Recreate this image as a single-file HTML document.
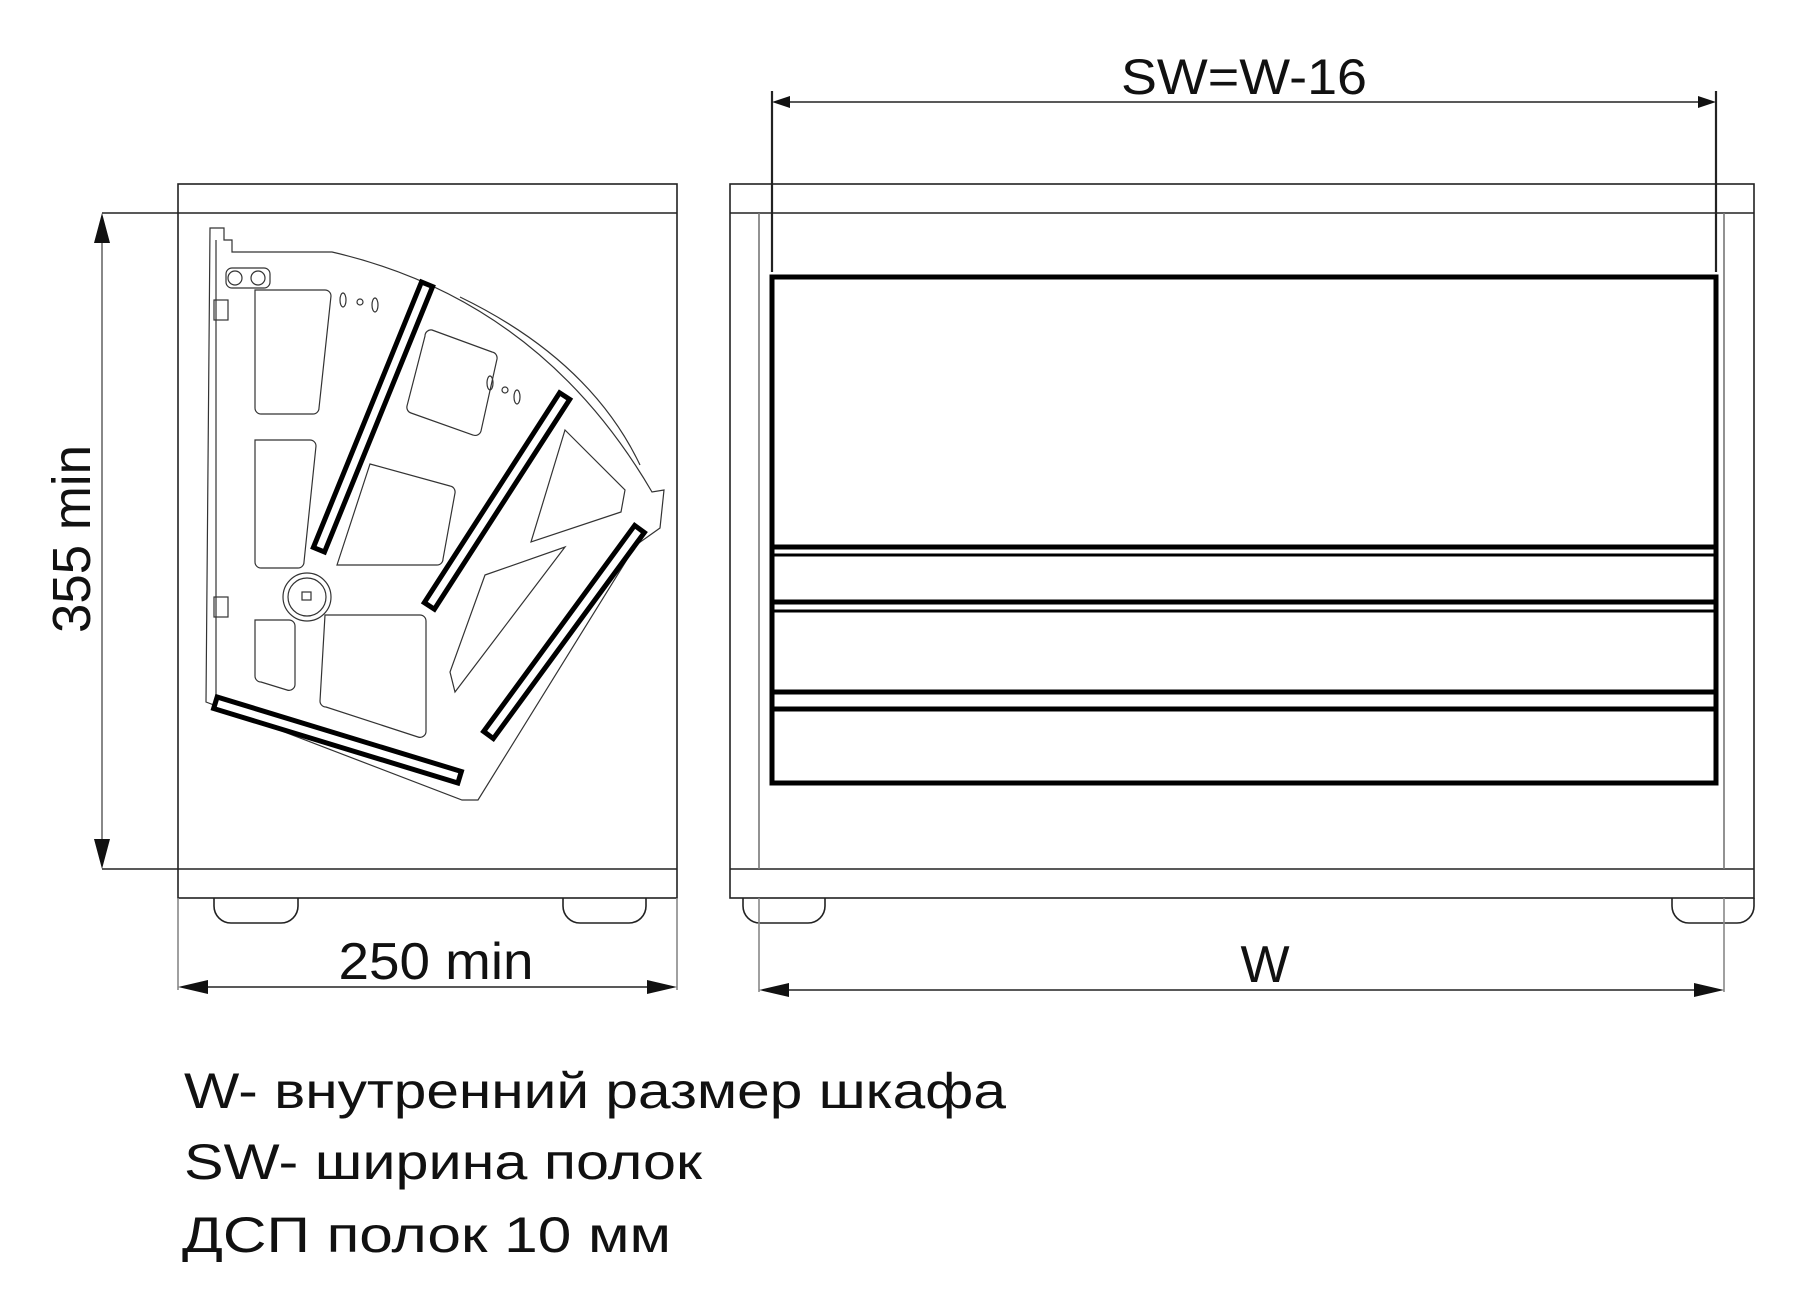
<!DOCTYPE html>
<html><head><meta charset="utf-8"><style>
html,body{margin:0;padding:0;background:#fff}
svg{display:block}
text{font-family:"Liberation Sans","DejaVu Sans",sans-serif;fill:#111}
</style></head><body>
<svg width="1809" height="1308" viewBox="0 0 1809 1308" xmlns="http://www.w3.org/2000/svg">
<rect width="1809" height="1308" fill="#fff"/>
<g fill="none" stroke="#222" stroke-width="1.6">
<rect x="178" y="184" width="499" height="714"/>
<line x1="178" y1="213" x2="677" y2="213"/>
<line x1="178" y1="869" x2="677" y2="869"/>
<path d="M214 898 v8 a17 17 0 0 0 17 17 h50 a17 17 0 0 0 17 -17 v-8"/>
<path d="M563 898 v8 a17 17 0 0 0 17 17 h49 a17 17 0 0 0 17 -17 v-8"/>
<rect x="730" y="184" width="1024" height="714"/>
<line x1="730" y1="213" x2="1754" y2="213"/>
<line x1="730" y1="869" x2="1754" y2="869"/>
<line x1="759" y1="213" x2="759" y2="869" stroke="#777"/>
<line x1="1724" y1="213" x2="1724" y2="869" stroke="#777"/>
<path d="M743 898 v8 a17 17 0 0 0 17 17 h48 a17 17 0 0 0 17 -17 v-8"/>
<path d="M1672 898 v8 a17 17 0 0 0 17 17 h48 a17 17 0 0 0 17 -17 v-8"/>
</g>
<g stroke="#222" stroke-width="1.6" fill="none">
<line x1="102" y1="213" x2="178" y2="213"/>
<line x1="102" y1="869" x2="178" y2="869"/>
<line x1="102" y1="230" x2="102" y2="852" stroke="#888" stroke-width="2"/>
<line x1="178" y1="898" x2="178" y2="990" stroke="#888"/>
<line x1="677" y1="898" x2="677" y2="990" stroke="#888"/>
<line x1="190" y1="987" x2="665" y2="987"/>
<line x1="759" y1="898" x2="759" y2="992" stroke="#888"/>
<line x1="1724" y1="898" x2="1724" y2="992" stroke="#888"/>
<line x1="775" y1="990" x2="1708" y2="990"/>
<line x1="772" y1="91" x2="772" y2="272" stroke-width="2.2"/>
<line x1="1716" y1="91" x2="1716" y2="272" stroke-width="2.2"/>
<line x1="790" y1="102" x2="1700" y2="102"/>
</g>
<g fill="#111">
<polygon points="102,213 94,243 110,243"/>
<polygon points="102,869 94,839 110,839"/>
<polygon points="178,987 208,980 208,994"/>
<polygon points="677,987 647,980 647,994"/>
<polygon points="759,990 789,983 789,997"/>
<polygon points="1724,990 1694,983 1694,997"/>
<polygon points="772,102 790,96 790,108"/>
<polygon points="1716,102 1698,96 1698,108"/>
</g>
<g fill="none" stroke="#000" stroke-width="5">
<rect x="772" y="277" width="944" height="506"/>
<line x1="772" y1="547" x2="1716" y2="547"/>
<line x1="772" y1="555" x2="1716" y2="555" stroke-width="3"/>
<line x1="772" y1="602" x2="1716" y2="602"/>
<line x1="772" y1="611" x2="1716" y2="611" stroke-width="3"/>
<line x1="772" y1="692" x2="1716" y2="692"/>
<line x1="772" y1="709" x2="1716" y2="709"/>
</g>
<g fill="none" stroke="#333" stroke-width="1.2">
<path d="M210 228 h14 v12 h8 v12 h100 Q540 300 652 492 L664 490 L660 528 L636 545 L478 800 L462 800 L206 702 Z"/>
<path d="M460 297 Q590 360 640 465" />
<line x1="216" y1="240" x2="216" y2="700"/>
<rect x="226" y="268" width="44" height="20" rx="6"/>
<circle cx="235" cy="278" r="7"/><circle cx="258" cy="278" r="7"/>
<rect x="214" y="300" width="14" height="20"/>
<rect x="214" y="597" width="14" height="20"/>
<path d="M255 290 h70 a6 6 0 0 1 6 6 l-12 112 a6 6 0 0 1 -6 6 h-52 a6 6 0 0 1 -6 -6 Z"/>
<path d="M255 440 h55 a6 6 0 0 1 6 6 l-12 116 a6 6 0 0 1 -6 6 h-37 a6 6 0 0 1 -6 -6 Z"/>
<path d="M255 620 h34 a6 6 0 0 1 6 6 v58 a6 6 0 0 1 -8 6 l-26 -8 a6 6 0 0 1 -6 -6 Z"/>
<path d="M325 615 h95 a6 6 0 0 1 6 6 v110 a6 6 0 0 1 -8 6 l-92 -30 a6 6 0 0 1 -6 -6 Z"/>
<path d="M370 464 l80 22 a6 6 0 0 1 5 7 l-12 66 a6 6 0 0 1 -6 6 h-100 Z"/>
<path d="M432 330 l60 22 a6 6 0 0 1 5 7 l-16 72 a6 6 0 0 1 -8 4 l-62 -22 a6 6 0 0 1 -4 -7 l18 -70 a6 6 0 0 1 7 -6 Z"/>
<path d="M565 430 l60 60 l-4 22 l-90 30 Z"/>
<path d="M485 575 l80 -28 l-110 145 l-5 -20 Z"/>
<circle cx="307" cy="597" r="24"/><circle cx="307" cy="597" r="19"/>
<rect x="302" y="592" width="9" height="8"/>
<ellipse cx="343" cy="300" rx="3" ry="7"/><circle cx="360" cy="302" r="3"/><ellipse cx="375" cy="305" rx="3" ry="7"/>
<ellipse cx="490" cy="383" rx="3" ry="7"/><circle cx="505" cy="390" r="3"/><ellipse cx="517" cy="397" rx="3" ry="7"/>
</g>
<g stroke-linecap="butt">
<line x1="428" y1="282" x2="318" y2="552" stroke="#000" stroke-width="17"/>
<line x1="426.1" y1="286.6" x2="319.9" y2="547.4" stroke="#fff" stroke-width="7"/>
<line x1="566" y1="394" x2="428" y2="608" stroke="#000" stroke-width="17"/>
<line x1="563.3" y1="398.2" x2="430.7" y2="603.8" stroke="#fff" stroke-width="7"/>
<line x1="641" y1="527" x2="487" y2="737" stroke="#000" stroke-width="17"/>
<line x1="638" y1="531" x2="490" y2="733" stroke="#fff" stroke-width="7"/>
<line x1="213" y1="702" x2="462" y2="778" stroke="#000" stroke-width="17"/>
<line x1="217.8" y1="703.5" x2="457.2" y2="776.5" stroke="#fff" stroke-width="7"/>
</g>
<text x="1244" y="94" font-size="50" text-anchor="middle" textLength="246" lengthAdjust="spacingAndGlyphs">SW=W-16</text>
<text x="436" y="979" font-size="52" text-anchor="middle" textLength="195" lengthAdjust="spacingAndGlyphs">250 min</text>
<text x="1265" y="982" font-size="52" text-anchor="middle">W</text>
<text transform="translate(90,539) rotate(-90)" font-size="54" text-anchor="middle" textLength="188" lengthAdjust="spacingAndGlyphs">355 min</text>
<text x="184" y="1108" font-size="50" textLength="822" lengthAdjust="spacingAndGlyphs">W- внутренний размер шкафа</text>
<text x="184" y="1179" font-size="50" textLength="518" lengthAdjust="spacingAndGlyphs">SW- ширина полок</text>
<text x="182" y="1252" font-size="50" textLength="489" lengthAdjust="spacingAndGlyphs">ДСП полок 10 мм</text>
</svg>
</body></html>
